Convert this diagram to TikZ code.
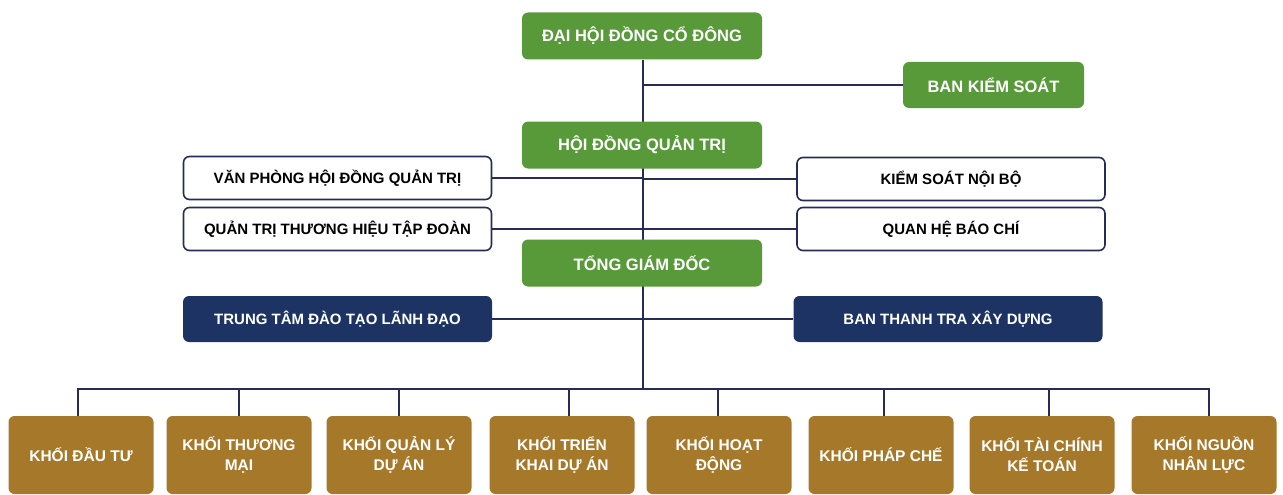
\documentclass[tikz,border=0pt]{standalone}
\usepackage{fontspec}
\setmainfont{Liberation Sans}
\definecolor{green1}{RGB}{88,154,58}
\definecolor{navy1}{RGB}{28,51,100}
\definecolor{brown1}{RGB}{166,120,42}
\definecolor{line1}{RGB}{38,44,86}
\begin{document}
\begin{tikzpicture}[x=1pt,y=-1pt,
  base/.style={rectangle,rounded corners=6pt,inner sep=2pt,align=center,font=\bfseries\fontsize{16.5}{19}\selectfont},
  gbox/.style={base,fill=green1,text=white,minimum width=240pt,minimum height=47pt},
  wbox/.style={base,fill=white,draw=line1,line width=1.6pt,text=black,minimum width=308pt,minimum height=43pt,font=\bfseries\fontsize{15}{18}\selectfont},
  nbox/.style={base,fill=navy1,text=white,minimum width=309pt,minimum height=46pt,font=\bfseries\fontsize{15}{18}\selectfont},
  kbox/.style={base,fill=brown1,text=white,minimum width=145pt,minimum height=78pt,font=\bfseries\fontsize{15.5}{20}\selectfont},
  conn/.style={draw=line1,line width=2.5pt}]
\useasboundingbox (0,0) rectangle (1283,495);
\coordinate (bus) at (643,389);
\coordinate (top) at (643,60);
\draw[conn] (top) -- (bus);
\node[gbox] (dh) at (642,36) {ĐẠI HỘI ĐỒNG CỔ ĐÔNG};
\node[gbox,minimum width=181pt,minimum height=46pt] (bks) at (993.5,85) {BAN KIỂM SOÁT};
\node[gbox] (hd) at (642,145) {HỘI ĐỒNG QUẢN TRỊ};
\node[wbox] (vp) at (337.5,178) {VĂN PHÒNG HỘI ĐỒNG QUẢN TRỊ};
\node[wbox] (ks) at (951,179) {KIỂM SOÁT NỘI BỘ};
\node[wbox] (qt) at (337.5,229) {QUẢN TRỊ THƯƠNG HIỆU TẬP ĐOÀN};
\node[wbox] (qh) at (951,229) {QUAN HỆ BÁO CHÍ};
\node[gbox] (tg) at (642,263) {TỔNG GIÁM ĐỐC};
\node[nbox] (tt) at (337.5,319) {TRUNG TÂM ĐÀO TẠO LÃNH ĐẠO};
\node[nbox] (bt) at (948,319) {BAN THANH TRA XÂY DỰNG};
\foreach \n/\x/\t in {k1/81/{KHỐI ĐẦU TƯ},k2/239/{KHỐI THƯƠNG\\MẠI},k3/399/{KHỐI QUẢN LÝ\\DỰ ÁN},k4/562/{KHỐI TRIỂN\\KHAI DỰ ÁN},k5/719/{KHỐI HOẠT\\ĐỘNG},k6/881/{KHỐI PHÁP CHẾ},k7/1042/{KHỐI TÀI CHÍNH\\KẾ TOÁN},k8/1204/{KHỐI NGUỒN\\NHÂN LỰC}}
  {\node[kbox] (\n) at (\x,455) {\t};}
\foreach \n in {bks,ks,qh,bt}{\draw[conn] (\n.west) -- (\n.west -| bus);}
\foreach \n in {vp,qt,tt}{\draw[conn] (\n.east) -- (\n.east -| bus);}
\foreach \n/\x in {k1/78,k2/239,k3/399,k4/569,k5/718,k6/884,k7/1049,k8/1209}{
  \coordinate (d\n) at (\x,416);
  \draw[conn] (d\n) |- (bus);}
\end{tikzpicture}
\end{document}
